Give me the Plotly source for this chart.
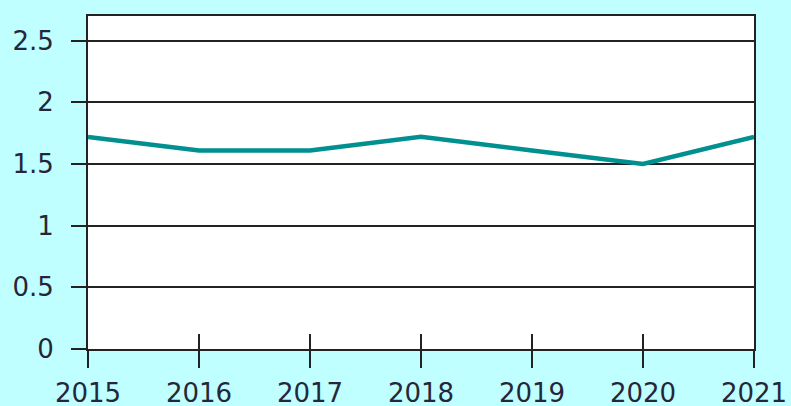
import plotly.graph_objects as go

years = [2015, 2016, 2017, 2018, 2019, 2020, 2021]
values = [1.72, 1.61, 1.61, 1.72, 1.61, 1.5, 1.72]
y_ticks = [0, 0.5, 1, 1.5, 2, 2.5]
y_labels = ["0", "0.5", "1", "1.5", "2", "2.5"]

BG = "#bfffff"
AX = "#222222"
TXT = "#26263a"
FONT = dict(family="DejaVu Sans", size=26, color=TXT)

fig = go.Figure()
fig.add_trace(go.Scatter(
    x=years, y=values, mode="lines",
    line=dict(color="#009090", width=4.5),
    showlegend=False, hoverinfo="skip",
))
# invisible trace on overlaying axis for inside ticks on x
fig.add_trace(go.Scatter(x=years, y=values, xaxis="x2", mode="lines",
                         line=dict(width=0), opacity=0, showlegend=False,
                         hoverinfo="skip"))

fig.update_layout(
    width=791, height=406,
    paper_bgcolor=BG, plot_bgcolor="white",
    margin=dict(l=88, r=37, t=16, b=57),
    font=FONT,
    xaxis=dict(
        range=[2015, 2021], tickvals=years, ticktext=[str(y) for y in years],
        showgrid=False, zeroline=False, automargin=False,
        showline=True, linecolor=AX, linewidth=2, mirror=True,
        ticks="outside", ticklen=17, tickwidth=2, tickcolor=AX,
        tickfont=FONT, ticklabelstandoff=3,
    ),
    xaxis2=dict(
        range=[2015, 2021], tickvals=years, overlaying="x", anchor="y",
        side="bottom", showgrid=False, zeroline=False, showline=False,
        automargin=False,
        ticks="inside", ticklen=15, tickwidth=2, tickcolor=AX,
        showticklabels=False,
    ),
    yaxis=dict(
        range=[0, 2.7], tickvals=y_ticks, ticktext=y_labels,
        showgrid=True, gridcolor=AX, gridwidth=2, zeroline=False,
        automargin=False,
        showline=True, linecolor=AX, linewidth=2, mirror=True,
        ticks="outside", ticklen=15, tickwidth=2, tickcolor=AX,
        tickfont=FONT, ticklabelstandoff=12,
    ),
)

fig.write_html("out.html", config={"displayModeBar": False},
               post_script="document.body.style.margin='0';document.body.style.overflow='hidden';")
